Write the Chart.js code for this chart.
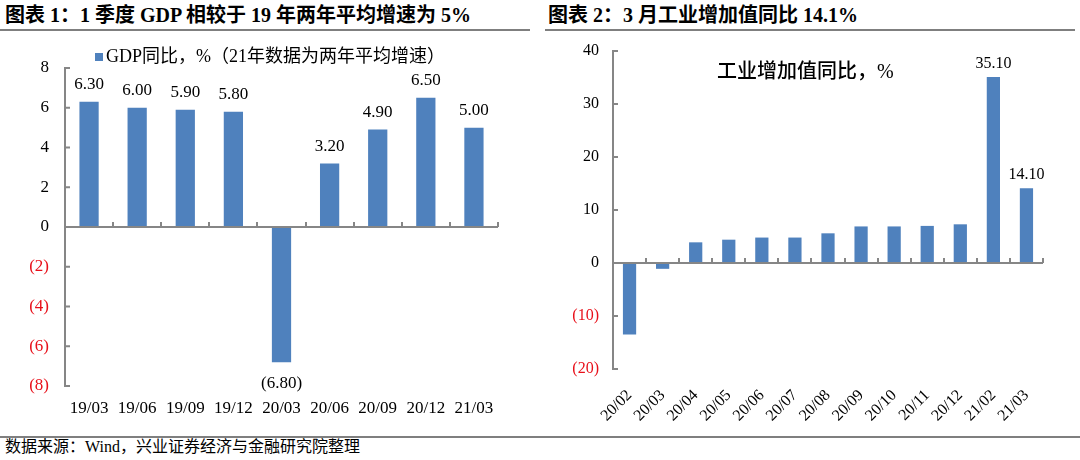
<!DOCTYPE html>
<html>
<head>
<meta charset="utf-8">
<script src="https://cdn.jsdelivr.net/npm/chart.js@4.4.0/dist/chart.umd.min.js"></script>
<style>
body{margin:0;background:#fff;width:1080px;height:460px;position:relative;overflow:hidden;font-family:"Liberation Serif","Noto Sans CJK SC",serif;color:#000}
.title{position:absolute;top:3px;font-size:20px;font-weight:bold;white-space:nowrap;line-height:24px}
.rule{position:absolute;height:0;border-top:2px solid #7f7f7f}
.box{position:absolute}
.src{position:absolute;left:5px;top:437px;font-size:16px;line-height:20px;white-space:nowrap}
</style>
</head>
<body>

<div class="title" style="left:5px">图表 1：1 季度 GDP 相较于 19 年两年平均增速为 5%</div>
<div class="rule" style="left:0;top:29px;width:530px"></div>
<div class="title" style="left:548px">图表 2：3 月工业增加值同比 14.1%</div>
<div class="rule" style="left:545px;top:29px;width:530px"></div>

<div class="box" style="left:0;top:36px;width:540px;height:400px"><canvas id="gdpChart"></canvas></div>
<div class="box" style="left:540px;top:36px;width:540px;height:400px"><canvas id="ipChart"></canvas></div>

<div class="rule" style="left:0;top:436px;width:1080px"></div>
<div class="src">数据来源：Wind，兴业证券经济与金融研究院整理</div>

<script>
// ---- dados ----
const gdpLabels = ["19/03","19/06","19/09","19/12","20/03","20/06","20/09","20/12","21/03"]
const gdpValues = [6.3, 6.0, 5.9, 5.8, -6.8, 3.2, 4.9, 6.5, 5.0]
const gdpMin = -8
const gdpMax = 8
const gdpStep = 2
const gdpSeriesName = "GDP同比，%（21年数据为两年平均增速）"

const ipLabels = ["20/02","20/03","20/04","20/05","20/06","20/07","20/08","20/09","20/10","20/11","20/12","21/02","21/03"]
const ipValues = [-13.5, -1.1, 3.9, 4.4, 4.8, 4.8, 5.6, 6.9, 6.9, 7.0, 7.3, 35.1, 14.1]
const ipLabelIdx = [11, 12]
const ipMin = -20
const ipMax = 40
const ipStep = 10
const ipSeriesName = "工业增加值同比，%"

const BLUE = "#4f81bd"
const AXIS = "#868686"
const RED = "#e8101a"
const FONT = '"Liberation Serif", "Noto Sans CJK SC", serif'

// formato (8) para negativos
function fmtTick(v){
    return v < 0 ? "(" + (-v) + ")" : String(v)
}
function fmtLabel(v){
    return v < 0 ? "(" + (-v).toFixed(2) + ")" : v.toFixed(2)
}

// eixo no zero com marcas entre categorias + marcas do eixo y para dentro
const axisPlugin = {
    id: "axisPlugin",
    afterDatasetsDraw(chart){
        const ctx = chart.ctx
        const y = chart.scales.y
        const area = chart.chartArea
        const y0 = y.getPixelForValue(0)
        const n = chart.data.labels.length
        const w = (area.right - area.left) / n
        ctx.save()
        ctx.strokeStyle = AXIS
        ctx.lineWidth = 2
        ctx.beginPath()
        ctx.moveTo(area.left, y0)
        ctx.lineTo(area.right, y0)
        for(let i = 1; i <= n; i++){
            const px = Math.round(area.left + i * w)
            ctx.moveTo(px, y0)
            ctx.lineTo(px, y0 - 5)
        }
        y.ticks.forEach(t => {
            const py = y.getPixelForValue(t.value)
            ctx.moveTo(area.left, py)
            ctx.lineTo(area.left + 5, py)
        })
        ctx.stroke()
        ctx.restore()
    }
}

function labelPlugin(idxList, size, gapUp, gapDown){
    return {
        id: "labelPlugin",
        afterDatasetsDraw(chart){
            const ctx = chart.ctx
            const meta = chart.getDatasetMeta(0)
            const vals = chart.data.datasets[0].data
            ctx.save()
            ctx.font = size + "px " + FONT
            ctx.fillStyle = "#000"
            ctx.textAlign = "center"
            ctx.textBaseline = "middle"
            meta.data.forEach((bar, i) => {
                if(idxList && !idxList.includes(i)) return
                const v = vals[i]
                const py = v < 0 ? bar.y + gapDown : bar.y - gapUp
                ctx.fillText(fmtLabel(v), bar.x, py)
            })
            ctx.restore()
        }
    }
}

// legenda desenhada a mao: o espaco vem do layout.padding.top
const smallLegend = {
    id: "smallLegend",
    afterDraw(chart){
        const ctx = chart.ctx
        const ds = chart.data.datasets[0]
        ctx.save()
        ctx.font = "18px " + FONT
        const tw = ctx.measureText(ds.label).width
        const box = 8
        const gap = 3
        const x0 = chart.width / 2 - (box + gap + tw) / 2
        const cy = chart.chartArea.top - 11
        ctx.fillStyle = ds.backgroundColor
        ctx.fillRect(x0, cy - box / 2, box, box)
        ctx.fillStyle = "#000"
        ctx.textBaseline = "middle"
        ctx.fillText(ds.label, x0 + box + gap, cy)
        ctx.restore()
    }
}

// titulo dentro do grafico da direita
const innerTitle = {
    id: "innerTitle",
    afterDraw(chart){
        const ctx = chart.ctx
        const area = chart.chartArea
        ctx.save()
        ctx.font = "500 20px " + FONT
        ctx.fillStyle = "#000"
        ctx.textBaseline = "middle"
        ctx.fillText(ipSeriesName, area.left + 104, area.top + 22)
        ctx.restore()
    }
}

// o espaco entre rotulo e eixo vem de um tick invisivel (ticks.padding soma no topo)
function yScale(min, max, step, width, size, gap){
    return {
        min: min,
        max: max,
        border: { color: AXIS, width: 2 },
        grid: { display: true, drawOnChartArea: false, drawTicks: true, tickLength: gap, tickColor: "rgba(0,0,0,0)" },
        ticks: {
            stepSize: step,
            padding: 2,
            font: { family: FONT, size: size },
            color: c => c.tick.value < 0 ? RED : "#000",
            callback: v => fmtTick(v)
        },
        afterFit(s){ s.width = width }
    }
}

new Chart(document.getElementById("gdpChart").getContext("2d"), {
    type: "bar",
    data: {
        labels: gdpLabels,
        datasets: [{
            label: gdpSeriesName,
            data: gdpValues,
            backgroundColor: BLUE,
            barPercentage: 0.4,
            categoryPercentage: 1
        }]
    },
    options: {
        responsive: true,
        maintainAspectRatio: false,
        animation: false,
        layout: { padding: { left: 0, right: 42, top: 32, bottom: 0 } },
        plugins: {
            legend: { display: false },
            tooltip: { enabled: false }
        },
        scales: {
            x: {
                border: { display: false },
                grid: { display: false },
                ticks: { padding: 4, color: "#000", font: { family: FONT, size: 17 }, maxRotation: 0 },
                afterFit(s){ s.height = 50 }
            },
            y: yScale(gdpMin, gdpMax, gdpStep, 65, 17, 14)
        }
    },
    plugins: [axisPlugin, labelPlugin(null, 17, 17, 21), smallLegend]
})

new Chart(document.getElementById("ipChart").getContext("2d"), {
    type: "bar",
    data: {
        labels: ipLabels,
        datasets: [{
            label: ipSeriesName,
            data: ipValues,
            backgroundColor: BLUE,
            barPercentage: 0.4,
            categoryPercentage: 1
        }]
    },
    options: {
        responsive: true,
        maintainAspectRatio: false,
        animation: false,
        layout: { padding: { left: 0, right: 37, top: 15, bottom: 0 } },
        plugins: {
            legend: { display: false },
            tooltip: { enabled: false }
        },
        scales: {
            x: {
                border: { display: false },
                grid: { display: false },
                ticks: { padding: 9, color: "#000", font: { family: FONT, size: 16 }, minRotation: 45, maxRotation: 45 },
                afterFit(s){ s.height = 67 }
            },
            y: yScale(ipMin, ipMax, ipStep, 73, 16, 12)
        }
    },
    plugins: [axisPlugin, labelPlugin(ipLabelIdx, 16, 13, 14), innerTitle]
})
</script>
</body>
</html>
